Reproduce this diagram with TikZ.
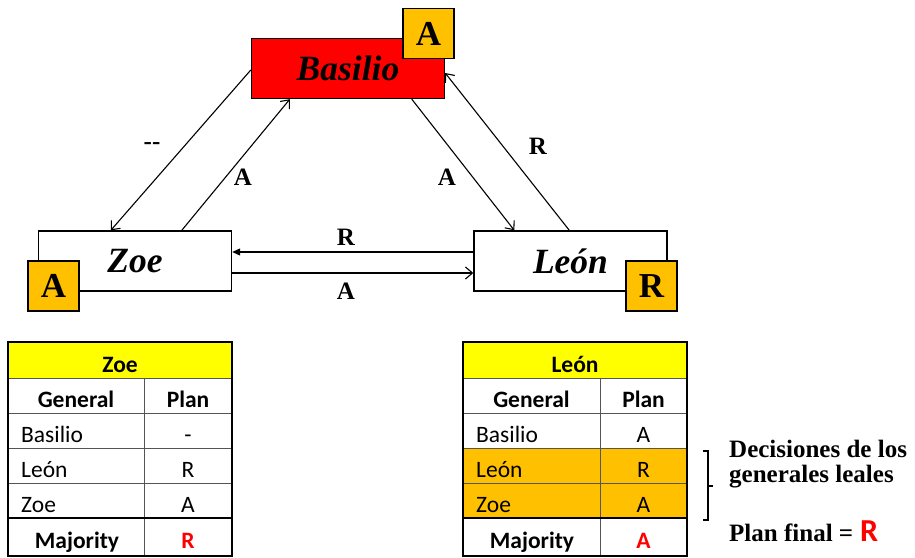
\documentclass[tikz,border=0pt]{standalone}
\usepackage{fontspec}
\setmainfont{Liberation Serif}
\newfontfamily\calibri{Carlito}
\usetikzlibrary{arrows.meta}
\definecolor{gold}{HTML}{FFC000}
\definecolor{hdr}{HTML}{FFFF00}
\definecolor{alarm}{HTML}{FF0000}
\definecolor{grid}{HTML}{555555}
\begin{document}
\begin{tikzpicture}[x=1pt,y=-1pt,
  general/.style={draw=black, line width=1.4pt, minimum width=193pt, minimum height=60pt,
    inner sep=0pt, font=\fontsize{35.5}{40}\selectfont\bfseries\itshape},
  badge/.style={draw=black, line width=1.4pt, fill=gold, minimum width=51pt, minimum height=50pt,
    inner sep=0pt, font=\fontsize{35}{40}\selectfont\bfseries},
  msg/.style={line width=1.1pt, -{Straight Barb[length=7pt,width=12pt,line width=1.1pt]}},
  msgfill/.style={line width=1.1pt, -{Triangle[length=8pt,width=7pt]}},
  lbl/.style={font=\fontsize{25}{28}\selectfont\bfseries, inner sep=0pt},
  cell/.style={font=\calibri\fontsize{23.5}{26}\selectfont, inner sep=0pt, anchor=base},
  cellL/.style={cell, anchor=base west},
  cellB/.style={cell, font=\calibri\fontsize{23.5}{26}\selectfont\bfseries},
  note/.style={font=\fontsize{25}{27}\selectfont\bfseries, inner sep=0pt, anchor=base west},
  gridline/.style={draw=grid, line width=0.8pt},
  frame/.style={draw=black, line width=1.8pt}
]
\useasboundingbox (0,0) rectangle (915,557);

% generals
\node[general, fill=alarm] (bas) at (348,68.5) {Basilio};
\node[general, fill=white] (zoe) at (135,261) {Zoe};
\node[general, fill=white] (leon) at (570.5,261) {León};

% decision badges
\node[badge] (basA) at (428.5,33.5) {A};
\node[badge] (zoeA) at (53.5,286) {A};
\node[badge] (leonR) at (651.5,286) {R};

% messages
\draw[msg] ([yshift=-1.5pt]bas.west) -- ([xshift=73pt]zoe.north west);
\draw[msg] ([xshift=144pt]zoe.north west) -- ([xshift=39pt]bas.south west);
\draw[msg] ([xshift=161pt]bas.south west) -- ([xshift=41pt]leon.north west);
\draw[msg] ([xshift=96pt]leon.north west) -- ([yshift=-4.5pt]bas.east);
\draw[msgfill] ([yshift=9pt]leon.west) -- ([yshift=9pt]zoe.east);
\draw[msg] ([yshift=-12pt]zoe.east) -- ([yshift=-12pt]leon.west);

\node[lbl] (l1) at (152,146) {-{}-};
\node[lbl] (l2) at (243,177) {A};
\node[lbl] (l3) at (447,177) {A};
\node[lbl] (l4) at (538,146) {R};
\node[lbl] (l5) at (346,237) {R};
\node[lbl] (l6) at (346,291) {A};

% table kept by Zoe
\fill[hdr] (8,342) rectangle (232,378);
\draw[gridline] (8,378) -- (232,378) (8,413) -- (232,413) (8,448) -- (232,448)
  (8,483) -- (232,483) (144,378) -- (144,556);
\draw[draw=black, line width=1.5pt] (8,518) -- (232,518);
\draw[frame] (8,342) rectangle (232,556);
\node[cellB] (zh) at (120,372) {Zoe};
\node[cellB] (zg) at (76,407) {General};
\node[cellB] (zp) at (188,407) {Plan};
\node[cellL] (z1) at (21,442) {Basilio};
\node[cell]  (z1v) at (188,442) {-};
\node[cellL] (z2) at (21,477) {León};
\node[cell]  (z2v) at (188,477) {R};
\node[cellL] (z3) at (21,512) {Zoe};
\node[cell]  (z3v) at (188,512) {A};
\node[cellB] (zm) at (77,548) {Majority};
\node[cellB, text=alarm] (zmv) at (188,548) {R};

% table kept by León
\fill[hdr] (463,342) rectangle (687,378);
\fill[gold] (463,448) rectangle (687,518);
\draw[gridline] (463,378) -- (687,378) (463,413) -- (687,413) (463,448) -- (687,448)
  (463,483) -- (687,483) (600,378) -- (600,556);
\draw[draw=black, line width=1.5pt] (463,518) -- (687,518);
\draw[frame] (463,342) rectangle (687,556);
\node[cellB] (lh) at (575,372) {León};
\node[cellB] (lg) at (531.5,407) {General};
\node[cellB] (lp) at (643.5,407) {Plan};
\node[cellL] (r1) at (476,442) {Basilio};
\node[cell]  (r1v) at (643.5,442) {A};
\node[cellL] (r2) at (476,477) {León};
\node[cell]  (r2v) at (643.5,477) {R};
\node[cellL] (r3) at (476,512) {Zoe};
\node[cell]  (r3v) at (643.5,512) {A};
\node[cellB] (lm) at (532,548) {Majority};
\node[cellB, text=alarm] (lmv) at (643.5,548) {A};

% loyal generals' decision
\draw[line width=1.2pt] (703,451) -- (708,451) -- (708,520) -- (703,520)
  (708,486) -- (713,486);
\node[note] (n1) at (729,457) {Decisiones de los};
\node[note] (n2) at (729,482) {generales leales};
\node[note] (n3) at (729,541) {Plan final =\hspace{7pt}{\calibri\fontsize{32}{34}\selectfont\bfseries\color{alarm}R}};
\end{tikzpicture}
\end{document}
